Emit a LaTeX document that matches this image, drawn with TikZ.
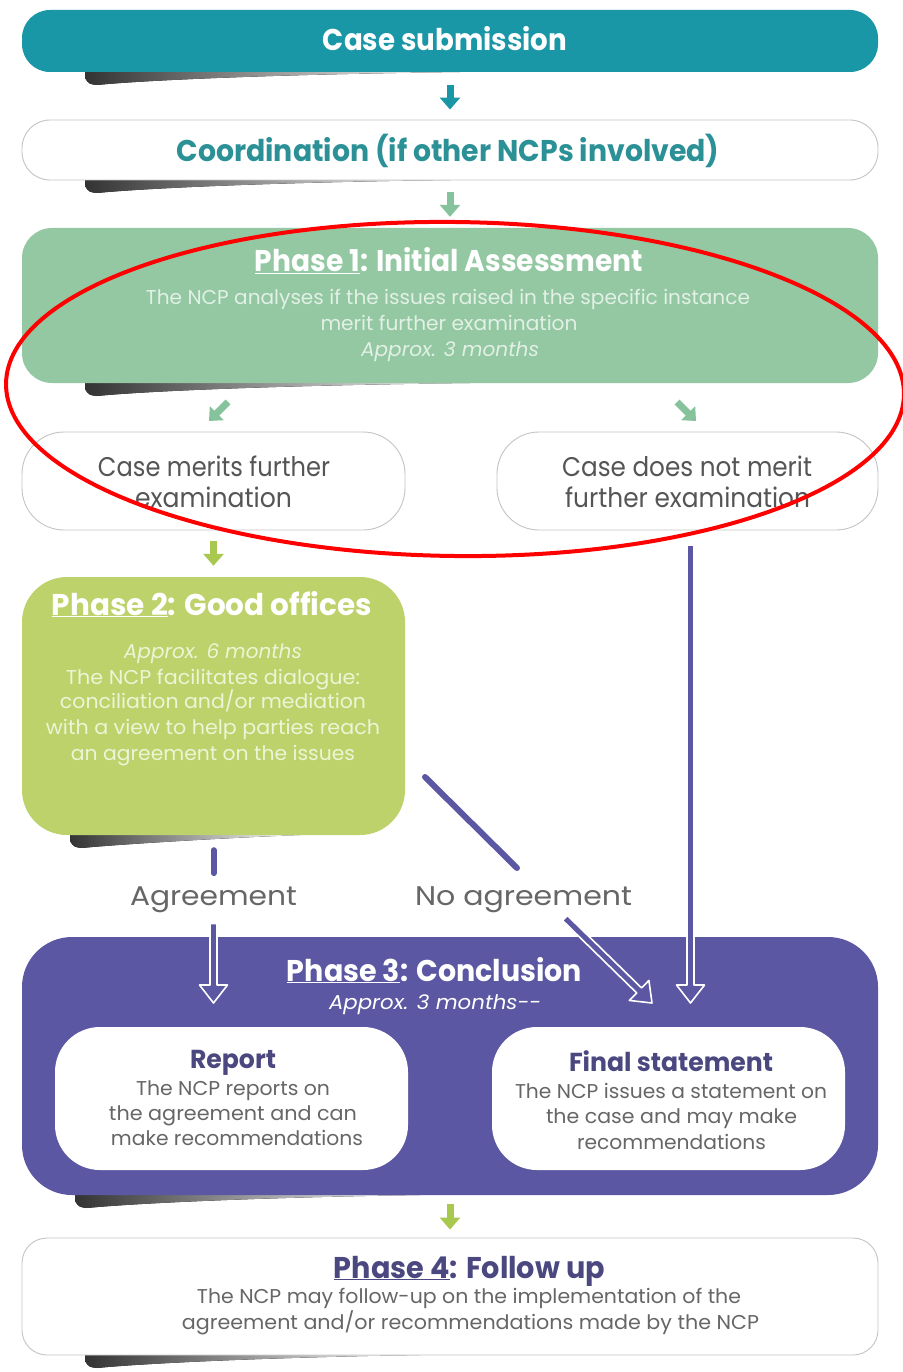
\documentclass[tikz,border=0pt]{standalone}
\usepackage{fontspec}
\setmainfont{Poppins}
\usepackage{graphicx}
\usetikzlibrary{calc,arrows.meta}
\definecolor{teal1}{HTML}{1A97A6}
\definecolor{tealtxt}{HTML}{2B9196}
\definecolor{green1}{HTML}{93C8A2}
\definecolor{greenarr}{HTML}{86C29C}
\definecolor{lime1}{HTML}{BDD26B}
\definecolor{limearr}{HTML}{A9C850}
\definecolor{purp}{HTML}{5B57A2}
\definecolor{purptxt}{HTML}{4B4880}
\definecolor{graytxt}{HTML}{555555}
\definecolor{bodygray}{HTML}{666666}
\definecolor{bordergray}{HTML}{C4C4C4}
\definecolor{ponetxt}{HTML}{E2F0E6}
\definecolor{ptwotxt}{HTML}{EEF4D6}
\newcommand\fw[2]{\resizebox{#1pt}{\height}{#2}}
\newcommand\shad[3]{\fill[left color=black!80, right color=white]
  (#1,#3-6) -- (#2,#3-6) -- (#2,#3) .. controls (#1+150,#3+3) and (#1+40,#3+10) .. (#1+12,#3+13)
  .. controls (#1+4,#3+12) .. (#1,#3+6) -- cycle;}
\newcommand\blockarrow[2]{%
  \coordinate (ba) at ($(#2)!18pt!(#1)$);
  \filldraw[fill=purp, draw=white, line width=1.6pt, line join=round]
    ($(#1)!3.5pt!90:(#2)$) -- ($(ba)!3.5pt!-90:(#1)$) -- ($(ba)!14pt!-90:(#1)$) -- (#2)
    -- ($(ba)!14pt!90:(#1)$) -- ($(ba)!3.5pt!90:(#1)$) -- ($(#1)!3.5pt!-90:(#2)$) -- cycle;}
\tikzset{
  box/.style={rectangle, inner sep=0pt, rounded corners=#1},
  wbox/.style={box=#1, fill=white, draw=bordergray, line width=0.9pt},
  ttl/.style={anchor=base, inner sep=2pt, font=\fontsize{30}{36}\selectfont\bfseries},
  sub/.style={anchor=base, inner sep=2pt, font=\fontsize{26}{32}\selectfont\bfseries},
  bd/.style={anchor=base, inner sep=2pt, font=\fontsize{20}{24}\selectfont},
  mid/.style={anchor=base, inner sep=2pt, font=\fontsize{27}{32}\selectfont},
  sarr/.style={line width=7pt, -{Triangle[width=20pt,length=12pt]}},
  darr/.style={line width=7pt, -{Triangle[width=19pt,length=11pt]}},
  pline/.style={purp, line width=6pt, line cap=round},
}
\begin{document}
\begin{tikzpicture}[x=1pt,y=-1pt]
\useasboundingbox (0,0) rectangle (902,1372);
\fill[white] (0,0) rectangle (902,1372);

% shadows
\shad{85}{460}{72}
\shad{85}{450}{180}
\shad{85}{470}{383}
\shad{70}{300}{835}
\shad{75}{420}{1195}
\shad{85}{420}{1355}

% boxes
\node[box=28, fill=teal1, minimum width=856pt, minimum height=62pt] (cs) at (450,41) {};
\node[wbox=28, minimum width=856pt, minimum height=60pt] (coord) at (450,150) {};
\node[box=30, fill=green1, minimum width=856pt, minimum height=155pt] (p1) at (450,305.5) {};
\node[wbox=42, minimum width=383pt, minimum height=98pt] (merits) at (213.5,481) {};
\node[wbox=42, minimum width=381pt, minimum height=98pt] (notmerit) at (687.5,481) {};
\node[box=45, fill=lime1, minimum width=383pt, minimum height=258pt] (p2) at (213.5,706) {};
\node[box=50, fill=purp, minimum width=856pt, minimum height=258pt] (p3) at (450,1066) {};
\node[box=45, fill=white, minimum width=353pt, minimum height=143pt] (report) at (231.5,1098.5) {};
\node[box=45, fill=white, minimum width=353pt, minimum height=143pt] (final) at (668.5,1098.5) {};
\node[wbox=25, minimum width=856pt, minimum height=117pt] (p4) at (450,1296.5) {};

% small arrows
\draw[sarr, teal1, shorten <=13pt, shorten >=10pt] (cs.south) -- (coord.north);
\draw[sarr, greenarr, shorten <=12pt, shorten >=11pt] (coord.south) -- (p1.north);
\coordinate (d1a) at (228,402); \coordinate (d1b) at (209,421);
\coordinate (d2a) at (677,402); \coordinate (d2b) at (696,421);
\draw[darr, greenarr] (d1a) -- (d1b);
\draw[darr, greenarr] (d2a) -- (d2b);
\draw[sarr, limearr, shorten <=11pt, shorten >=11pt] (merits.south) -- (p2.north);
\draw[sarr, limearr, shorten <=9pt, shorten >=8pt] (p3.south) -- (p4.north);

% texts
\node[ttl, white] (tcs) at (445,51) {\fw{244}{Case submission}};
\node[ttl, tealtxt] (tco) at (448,162) {\fw{543}{Coordination (if other NCPs involved)}};
\node[ttl, white] (tp1) at (449,272) {\fw{388}{\underline{Phase 1}: Initial Assessment}};
\node[bd, ponetxt] (p1a) at (448,304) {\fw{604}{The NCP analyses if the issues raised in the specific instance}};
\node[bd, ponetxt] (p1b) at (449,330) {\fw{257}{merit further examination}};
\node[bd, ponetxt] (p1c) at (450,356) {\fw{178}{\itshape Approx. 3 months}};

\node[mid, graytxt] (m1) at (214,476) {\fw{232}{Case merits further}};
\node[mid, graytxt] (m2) at (213.5,507) {\fw{157}{examination}};
\node[mid, graytxt] (n1) at (687,476) {\fw{250}{Case does not merit}};
\node[mid, graytxt] (n2) at (687.5,507) {\fw{245}{further examination}};

\node[ttl, white] (tp2) at (212,615) {\fw{320}{\underline{Phase 2}: Good offices}};
\node[bd, ptwotxt] (p2a) at (213,658) {\fw{178}{\itshape Approx. 6 months}};
\node[bd, ptwotxt] (p2b) at (213,684) {\fw{294}{The NCP facilitates dialogue:}};
\node[bd, ptwotxt] (p2c) at (213,708) {\fw{306}{conciliation and/or mediation}};
\node[bd, ptwotxt] (p2d) at (213,734) {\fw{334}{with a view to help parties reach}};
\node[bd, ptwotxt] (p2e) at (213,760) {\fw{284}{an agreement on the issues}};

\node[mid, bodygray] (agree) at (213.5,905) {\fw{167}{Agreement}};
\node[mid, bodygray] (noagree) at (523.5,905) {\fw{217}{No agreement}};

\node[ttl, white] (tp3) at (434.5,981) {\fw{295}{\underline{Phase 3}: Conclusion}};
\node[bd, white] (p3a) at (435,1009) {\fw{212}{\itshape Approx. 3 months-{}-}};

\node[sub, purptxt] (tr) at (233,1068) {\fw{86}{Report}};
\node[bd, bodygray] (ra) at (233,1095) {\fw{194}{The NCP reports on}};
\node[bd, bodygray] (rb) at (233,1120) {\fw{248}{the agreement and can}};
\node[bd, bodygray] (rc) at (237,1145) {\fw{252}{make recommendations}};

\node[sub, purptxt] (tf) at (671,1071) {\fw{204}{Final statement}};
\node[bd, bodygray] (fa) at (671,1098) {\fw{312}{The NCP issues a statement on}};
\node[bd, bodygray] (fb) at (671.5,1123) {\fw{251}{the case and may make}};
\node[bd, bodygray] (fc) at (671.5,1149) {\fw{189}{recommendations}};

\node[ttl, purptxt] (tp4) at (469.5,1278) {\fw{271}{\underline{Phase 4}: Follow up}};
\node[bd, bodygray] (p4a) at (469,1303) {\fw{544}{The NCP may follow-up on the implementation of the}};
\node[bd, bodygray] (p4b) at (470.5,1329) {\fw{577}{agreement and/or recommendations made by the NCP}};

% purple connectors
\draw[pline, shorten <=15pt, shorten >=11pt] (p2.south) -- (agree.north);
\coordinate (agtail) at ($(agree.south)+(0,9)$);
\coordinate (agtip) at (213.5,1003);
\blockarrow{agtail}{agtip}
\coordinate (na1) at (425,777);
\coordinate (na2) at (517,868);
\draw[pline] (na1) -- (na2);
\coordinate (natail) at (565,918);
\coordinate (natip) at (652,1003);
\blockarrow{natail}{natip}
\coordinate (nmtail) at (690.5,545);
\coordinate (nmtip) at (690.5,1003);
\blockarrow{nmtail}{nmtip}

% red annotation ellipse
\draw[red, line width=4pt, rotate around={-0.7:(455,389)}] (455,389) ellipse [x radius=449pt, y radius=167pt];
\end{tikzpicture}
\end{document}
